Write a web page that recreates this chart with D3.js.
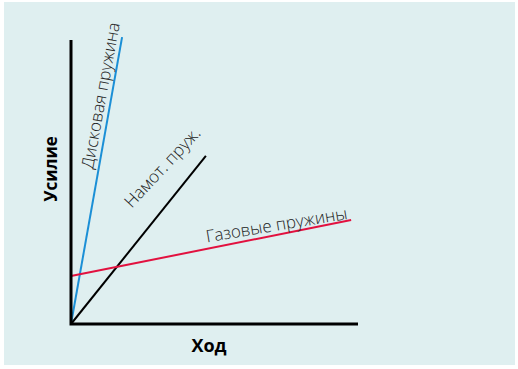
<!DOCTYPE html>
<html>
<head>
<meta charset="utf-8">
<script src="https://cdn.jsdelivr.net/npm/d3@7"></script>
<style>
  body { margin: 0; background: #fff; }
  svg { display: block; }
</style>
</head>
<body>
<svg width="518" height="369"></svg>
<script>
// ---> Data (stroke %, force %)
const seriesNames = ["Дисковая пружина", "Намот. пруж.", "Газовые пружины"];
const seriesColors = ["#1b8fd6", "#000000", "#e2113f"];
const discSpring = [[0, 0], [17.8, 101]];
const coilSpring = [[0, 0], [47, 59.2]];
const gasSpring = [[0, 16.9], [97.6, 36.6]];
const axisTitles = ["Ход", "Усилие"];

const svg = d3.select("svg");

// panel background
svg.append("rect")
    .attr("x", 4).attr("y", 2)
    .attr("width", 511).attr("height", 363)
    .attr("fill", "#dfeff0");

const x = d3.scaleLinear().domain([0, 100]).range([71, 358]);
const y = d3.scaleLinear().domain([0, 100]).range([324, 40]);

const line = d3.line().x(d => x(d[0])).y(d => y(d[1]));

const series = [discSpring, coilSpring, gasSpring];

//draw the lines
svg.append("g")
    .selectAll("path")
    .data(series)
    .enter()
    .append("path")
    .attr("d", line)
    .attr("fill", "none")
    .attr("stroke", (d, i) => seriesColors[i])
    .attr("stroke-width", 2);

//axes as plain lines (no ticks)
svg.append("path")
    .attr("d", `M${x(0)},${y(100)}V${y(0)}H${x(100)}`)
    .attr("fill", "none")
    .attr("stroke", "#000")
    .attr("stroke-width", 3);

//labels along the lines: position on line (t), perpendicular offset, text angle
const labelPos = [
    {t: 0.79, off: -5, ang: -79.6},
    {t: 0.83, off: -21, ang: -47},
    {t: 0.74, off: -4, ang: -9.5}
];
series.forEach((s, i) => {
    const x0 = x(s[0][0]), y0 = y(s[0][1]);
    const x1 = x(s[1][0]), y1 = y(s[1][1]);
    const len = Math.hypot(x1 - x0, y1 - y0);
    const ux = (x1 - x0) / len, uy = (y1 - y0) / len;
    const p = labelPos[i];
    // normal pointing to the upper-left side of the line
    const px = x0 + (x1 - x0) * p.t + uy * -p.off;
    const py = y0 + (y1 - y0) * p.t - ux * -p.off;
    svg.append("text")
        .attr("transform", `translate(${px},${py}) rotate(${p.ang})`)
        .attr("text-anchor", "middle")
        .style("font-family", "'Open Sans', sans-serif")
        .style("font-weight", 300)
        .style("font-size", "17px")
        .attr("fill", "#222")
        .text(seriesNames[i]);
});

//axis titles
svg.append("text")
    .attr("x", 209).attr("y", 352)
    .attr("text-anchor", "middle")
    .style("font-family", "'Open Sans', sans-serif")
    .style("font-weight", 700)
    .style("font-size", "18px")
    .text(axisTitles[0]);

svg.append("text")
    .attr("transform", "translate(57,169) rotate(-90)")
    .attr("text-anchor", "middle")
    .style("font-family", "'Open Sans', sans-serif")
    .style("font-weight", 700)
    .style("font-size", "17px")
    .text(axisTitles[1]);
</script>
</body>
</html>
